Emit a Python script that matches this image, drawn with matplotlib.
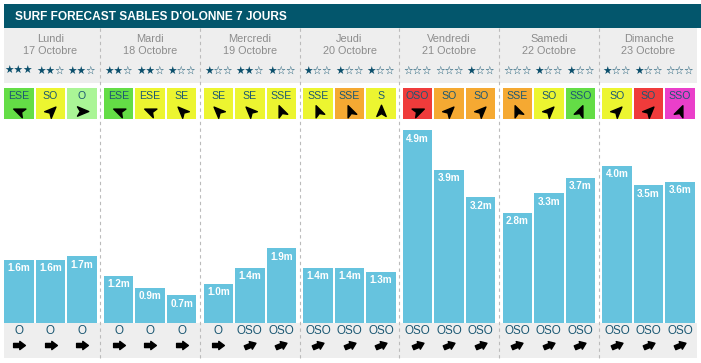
import matplotlib
matplotlib.use('Agg')
import matplotlib.pyplot as plt
from matplotlib.patches import Rectangle
from matplotlib.path import Path
from matplotlib.markers import MarkerStyle
from matplotlib.transforms import Affine2D

# Données
titre = "SURF FORECAST SABLES D'OLONNE 7 JOURS"
jours = ['Lundi', 'Mardi', 'Mercredi', 'Jeudi', 'Vendredi', 'Samedi', 'Dimanche']
dates = ['17 Octobre', '18 Octobre', '19 Octobre', '20 Octobre',
         '21 Octobre', '22 Octobre', '23 Octobre']
hauteurs = [1.6, 1.6, 1.7, 1.2, 0.9, 0.7, 1.0, 1.4, 1.9, 1.4, 1.4, 1.3,
            4.9, 3.9, 3.2, 2.8, 3.3, 3.7, 4.0, 3.5, 3.6]
etoiles = [3, 2, 2, 2, 2, 1, 1, 2, 1, 1, 1, 1, 0, 0, 1, 0, 1, 1, 1, 1, 0]
vent_dir = ['ESE', 'SO', 'O', 'ESE', 'ESE', 'SE', 'SE', 'SE', 'SSE',
            'SSE', 'SSE', 'S', 'OSO', 'SO', 'SO', 'SSE', 'SO', 'SSO',
            'SO', 'SO', 'SSO']
vent_niveau = ['vert', 'jaune', 'vert_clair', 'vert', 'jaune', 'jaune',
               'jaune', 'jaune', 'jaune', 'jaune', 'orange', 'jaune',
               'rouge', 'orange', 'orange', 'orange', 'jaune', 'vert',
               'jaune', 'rouge', 'magenta']
houle_dir = ['O', 'O', 'O', 'O', 'O', 'O', 'O', 'OSO', 'OSO',
             'OSO', 'OSO', 'OSO', 'OSO', 'OSO', 'OSO', 'OSO', 'OSO', 'OSO',
             'OSO', 'OSO', 'OSO']

couleurs_vent = {'vert': '#64dd46', 'jaune': '#ecf530', 'vert_clair': '#aaf596',
                 'orange': '#f5a932', 'rouge': '#ef3b3b', 'magenta': '#ea3fca'}
cap = {'N': 0, 'NNE': 22.5, 'NE': 45, 'ENE': 67.5, 'E': 90, 'ESE': 112.5,
       'SE': 135, 'SSE': 157.5, 'S': 180, 'SSO': 202.5, 'SO': 225,
       'OSO': 247.5, 'O': 270, 'ONO': 292.5, 'NO': 315, 'NNO': 337.5}

plt.rcParams['font.family'] = ['Liberation Sans', 'DejaVu Sans']

W, H = 701, 363
fig = plt.figure(figsize=(W / 100, H / 100), dpi=100)
fig.patch.set_facecolor('white')

# Fond en pixels
bg = fig.add_axes([0, 0, 1, 1])
bg.set_xlim(0, W)
bg.set_ylim(H, 0)
bg.axis('off')

x0, x1 = 4, 697
pas_jour = 99.67
decal = [15, 46.5, 78]
larg = 29.5


def col_x(i):
    return x0 + (i // 3) * pas_jour + decal[i % 3]


bg.add_patch(Rectangle((4, 4), W - 4, 24, color='#03566c', lw=0))
bg.text(15, 16.5, titre, color='white', fontsize=8.6, fontweight='bold',
        va='center', ha='left')
bg.add_patch(Rectangle((x0, 28), x1 - x0, 55, color='#eeeeee', lw=0))
bg.add_patch(Rectangle((x0, 323), x1 - x0, 35, color='#eeeeee', lw=0))

for d in range(1, 7):
    xd = x0 + d * pas_jour - 3.4
    bg.plot([xd, xd], [28, 358], color='#bbbbbb', lw=0.8, ls=(0, (3, 3)))

for d, (j, dt) in enumerate(zip(jours, dates)):
    xc = x0 + d * pas_jour + 46.5
    bg.text(xc, 39.5, j, color='#8c8c8c', fontsize=7.9, ha='center', va='center')
    bg.text(xc, 51.5, dt, color='#8c8c8c', fontsize=7.8, ha='center', va='center')

# Flèches
fleche_nav = Path([(1, 0), (-0.8, 0.75), (-0.35, 0), (-0.8, -0.75), (1, 0)],
                  [Path.MOVETO, Path.LINETO, Path.LINETO, Path.LINETO, Path.CLOSEPOLY])
fleche_houle = Path([(-1, -0.35), (0.05, -0.35), (0.05, -0.7), (1, 0),
                     (0.05, 0.7), (0.05, 0.35), (-1, 0.35), (-1, -0.35)],
                    [Path.MOVETO] + [Path.LINETO] * 6 + [Path.CLOSEPOLY])

for i in range(21):
    xc = col_x(i)
    n = etoiles[i]
    bg.text(xc, 70.5, '★' * n + '☆' * (3 - n), color='#0b4f6c', fontsize=7.7,
            family='DejaVu Sans', ha='center', va='center')
    bg.add_patch(Rectangle((xc - larg / 2, 88), larg, 31,
                           color=couleurs_vent[vent_niveau[i]], lw=0))
    bg.text(xc, 96, vent_dir[i], color='#1c5873', fontsize=7.6,
            ha='center', va='center')
    m = MarkerStyle(fleche_nav, transform=Affine2D().rotate_deg(270 - cap[vent_dir[i]]))
    bg.plot([xc], [110.5], marker=m, ms=9, color='black', ls='none')
    bg.text(xc, 331.5, houle_dir[i], color='#1c5873', fontsize=8.4,
            ha='center', va='center')
    m2 = MarkerStyle(fleche_houle, transform=Affine2D().rotate_deg(270 - cap[houle_dir[i]]))
    bg.plot([xc], [345], marker=m2, ms=8.5, color='black', ls='none')

# Barres des hauteurs de vagues
haut_px = 203
ax = fig.add_axes([x0 / W, (H - 323) / H, (x1 - x0) / W, haut_px / H])
ax.set_xlim(x0, x1)
ax.set_ylim(0, haut_px / 39.3)
ax.axis('off')
xs = [col_x(i) for i in range(21)]
ax.bar(xs, hauteurs, width=larg, color='#66c3de', lw=0)
for x, h in zip(xs, hauteurs):
    ax.annotate(f'{h:.1f}m', (x, h), xytext=(0, -6), textcoords='offset points',
                ha='center', va='center', color='white', fontsize=7.2,
                fontweight='bold')

fig.savefig('out.png', dpi=100)
